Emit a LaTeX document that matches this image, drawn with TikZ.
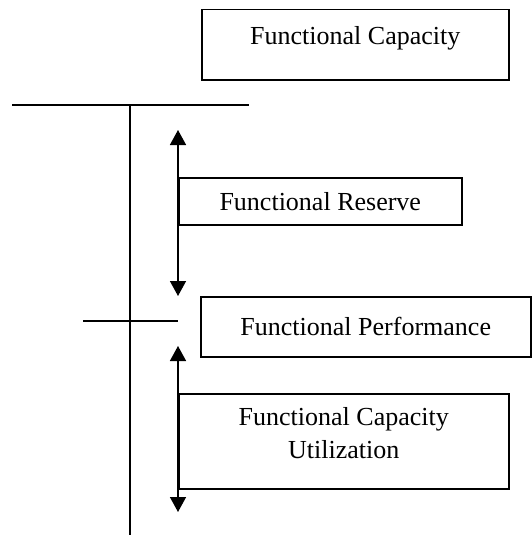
\documentclass[tikz,border=0pt]{standalone}
\usepackage{fontspec}
\setmainfont{Liberation Serif}
\usetikzlibrary{arrows.meta}

\begin{document}
\begin{tikzpicture}[x=1pt,y=-1pt,
    boks/.style={draw,line width=1.5pt,inner sep=0pt,anchor=north west,align=center,
        font=\fontsize{26}{33}\selectfont},
    strek/.style={line width=1.5pt},
    pil/.style={line width=1.5pt,{Triangle[length=15pt,width=16pt]}-{Triangle[length=15pt,width=16pt]}}]
    \useasboundingbox (0,0) rectangle (532,535);
    %Bokser
        \node[boks,minimum width=307,minimum height=70,text depth=18pt] (kapasitet) at (201,9) {Functional Capacity};
        \node[boks,minimum width=283,minimum height=47] (reserve) at (178,177) {Functional Reserve};
        \node[boks,minimum width=330,minimum height=60] (ytelse) at (200,296) {Functional Performance};
        \node[boks,minimum width=330,minimum height=95,text depth=16pt] (utnyttelse) at (178,393) {Functional Capacity\\Utilization};
    %Skala
        \coordinate (toppV) at (12,105);
        \coordinate (toppH) at (249,105);
        \coordinate (aksetopp) at (130,105);
        \coordinate (aksebunn) at (130,535);
        \coordinate (midtV) at (83,321);
        \coordinate (midtH) at (178,321);
        \draw[strek] (toppV)--(toppH);
        \draw[strek] (aksetopp)--(aksebunn);
        \draw[strek] (midtV)--(midtH);
    %Piler
        \coordinate (pil1a) at (178,130);
        \coordinate (pil1b) at (178,296);
        \coordinate (pil2a) at (178,346);
        \coordinate (pil2b) at (178,512);
        \draw[pil] (pil1a)--(pil1b);
        \draw[pil] (pil2a)--(pil2b);
\end{tikzpicture}
\end{document}
